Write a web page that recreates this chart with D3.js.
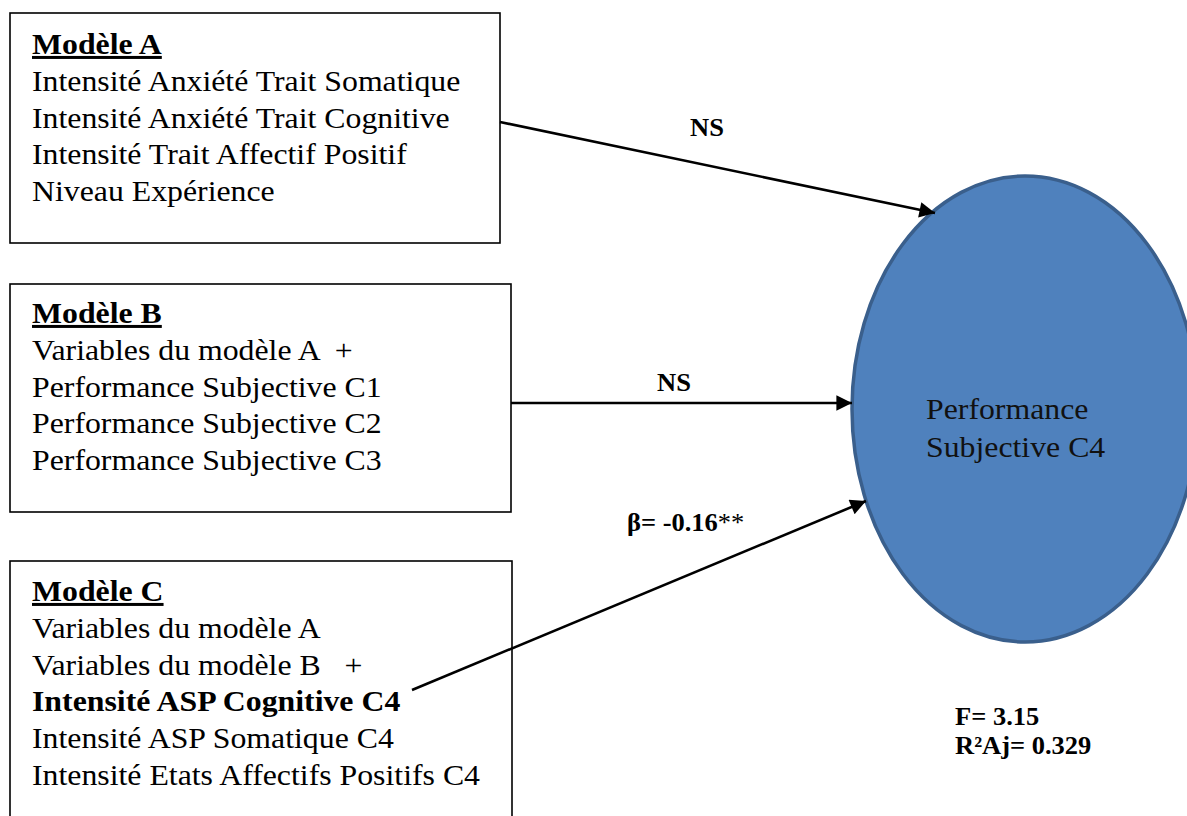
<!DOCTYPE html>
<html><head><meta charset="utf-8">
<script src="https://cdn.jsdelivr.net/npm/d3@7"></script>
<style>html,body{margin:0;padding:0;background:#fff;overflow:hidden} text{white-space:pre}</style>
</head><body>
<svg id="c" width="1187" height="816"></svg>
<script>
const modelTitles = ["Modèle A", "Modèle B", "Modèle C"];
const modelLinesA = ["Intensité Anxiété Trait Somatique", "Intensité Anxiété Trait Cognitive", "Intensité Trait Affectif Positif", "Niveau Expérience"];
const modelLinesB = ["Variables du modèle A  +", "Performance Subjective C1", "Performance Subjective C2", "Performance Subjective C3"];
const modelLinesC = ["Variables du modèle A", "Variables du modèle B   +", "Intensité ASP Cognitive C4", "Intensité ASP Somatique C4", "Intensité Etats Affectifs Positifs C4"];
const boldLinesC = [false, false, true, false, false];
const arrowLabels = ["NS", "NS", "β= -0.16"];
const arrowStars = ["", "", "**"];
const targetLabel = ["Performance", "Subjective C4"];
const statsLabels = ["F= 3.15", "R²Aj= 0.329"];

const svg = d3.select("#c");
const font = "'Liberation Serif','Times New Roman',serif";
const SX = 1.06;

function txt(x, y, size, weight) {
  return svg.append("text")
    .attr("transform", `translate(${x},${y}) scale(${SX},1)`)
    .attr("font-family", font).attr("font-size", size)
    .attr("font-weight", weight || "normal").attr("fill", "#000");
}

const boxes = [
  {x0:10, x1:500, y0:13, y1:243, title:54, lines:modelLinesA, bold:[]},
  {x0:10, x1:511, y0:284, y1:512, title:323, lines:modelLinesB, bold:[]},
  {x0:10, x1:512, y0:561, y1:830, title:601, lines:modelLinesC, bold:boldLinesC}
];

svg.append("defs").append("marker")
  .attr("id","ah").attr("viewBox","0 0 10 10").attr("refX",10).attr("refY",5)
  .attr("markerWidth",7).attr("markerHeight",6).attr("markerUnits","strokeWidth")
  .attr("orient","auto")
  .append("path").attr("d","M0,0 L10,5 L0,10 z").attr("fill","#000");

svg.append("ellipse").attr("cx",1025).attr("cy",409).attr("rx",173).attr("ry",233)
  .attr("fill","#4F81BD").attr("stroke","#3A5F8C").attr("stroke-width",3.5);

boxes.forEach((b,i)=>{
  svg.append("rect").attr("x",b.x0).attr("y",b.y0).attr("width",b.x1-b.x0).attr("height",b.y1-b.y0)
    .attr("fill","none").attr("stroke","#000").attr("stroke-width",1.6);
  txt(32, b.title, 30, "bold").attr("text-decoration","underline").text(modelTitles[i]);
  b.lines.forEach((l,j)=>{
    txt(32, b.title+37+j*36.7, 30, b.bold[j]?"bold":"normal").text(l);
  });
});

const arrows = [
  {x1:500,y1:122,x2:935,y2:213},
  {x1:511,y1:403,x2:852,y2:403},
  {x1:412,y1:690,x2:866,y2:501}
];
arrows.forEach(a=>{
  svg.append("line").attr("x1",a.x1).attr("y1",a.y1).attr("x2",a.x2).attr("y2",a.y2)
    .attr("stroke","#000").attr("stroke-width",2.6).attr("marker-end","url(#ah)");
});

const labelPos = [{x:690,y:136},{x:657,y:391},{x:627,y:531}];
arrowLabels.forEach((l,i)=>{
  const t = txt(labelPos[i].x, labelPos[i].y, 25, "bold");
  t.append("tspan").text(l);
  if (arrowStars[i]) t.append("tspan").attr("font-weight","normal").text(arrowStars[i]);
});

targetLabel.forEach((l,i)=>{
  txt(926, 419+i*38, 30).attr("fill","#111").text(l);
});

statsLabels.forEach((l,i)=>{
  txt(955, 725+i*29, 25, "bold").text(l);
});
</script>
</body></html>
